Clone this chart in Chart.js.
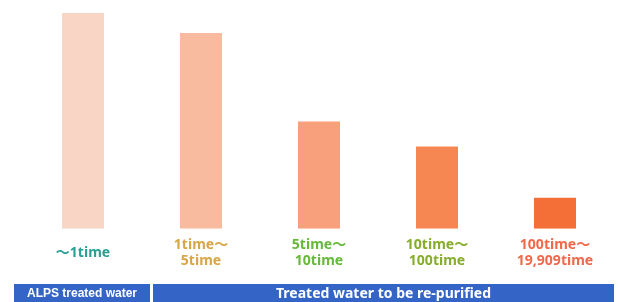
<!DOCTYPE html>
<html>
<head>
<meta charset="utf-8">
<script src="https://cdn.jsdelivr.net/npm/chart.js@4"></script>
<style>
  html, body { margin: 0; padding: 0; background: #fff; }
  #wrap { width: 618px; height: 302px; position: relative; }
</style>
</head>
<body>
<div id="wrap"><canvas id="chart"></canvas></div>
<script>
// datos del gráfico
const categories = [["～1time"], ["1time～", "5time"], ["5time～", "10time"], ["10time～", "100time"], ["100time～", "19,909time"]];
const values = [215, 195, 107, 82, 31];
const barColors = ["#f9d5c6", "#f9bba0", "#f8a07b", "#f78752", "#f46f37"];
const labelColors = ["#2a9f95", "#d8a649", "#66b93a", "#86ad2b", "#ef6a4c"];
const groupNames = ["ALPS treated water", "Treated water to be re-purified"];
const groupRanges = [[0, 0], [1, 4]];

// Plugin para las cajas azules de abajo
const groupBoxes = {
  id: "groupBoxes",
  afterDraw(chart) {
    const ctx = chart.ctx;
    const x = chart.scales.x;
    const w = (x.right - x.left) / categories.length;
    const top = 284, bottom = 302;
    groupRanges.forEach((r, i) => {
      let l = x.getPixelForValue(r[0]) - w / 2;
      let rr = x.getPixelForValue(r[1]) + w / 2;
      if (i === 0) { l -= 10; rr += 8; } else { l += 11; }
      ctx.save();
      ctx.fillStyle = "#3464c6";
      ctx.fillRect(l, top, rr - l, bottom - top);
      ctx.fillStyle = "#ffffff";
      ctx.textAlign = "center";
      ctx.textBaseline = "middle";
      ctx.font = i === 0 ? "bold 12px 'Liberation Sans'" : "bold 14px 'Noto Sans'";
      ctx.fillText(groupNames[i], (l + rr) / 2, (top + bottom) / 2 + 1);
      ctx.restore();
    });
  }
};

new Chart(document.getElementById("chart"), {
  type: "bar",
  data: {
    labels: categories,
    datasets: [{
      data: values,
      backgroundColor: barColors,
      borderWidth: 0,
      categoryPercentage: 1,
      barPercentage: 0.356
    }]
  },
  options: {
    responsive: true,
    maintainAspectRatio: false,
    animation: false,
    layout: { padding: { left: 24, right: 4, top: 13, bottom: 17 } },
    scales: {
      x: {
        grid: { display: false },
        border: { display: false },
        ticks: {
          color: (c) => labelColors[c.index],
          font: { family: "'Noto Sans', 'Noto Sans CJK JP'", size: 14, weight: "bold", lineHeight: 1.15 },
          padding: 8,
          maxRotation: 0,
          autoSkip: false,
          crossAlign: "center"
        }
      },
      y: {
        display: false,
        min: 0,
        max: 215
      }
    },
    plugins: {
      legend: { display: false },
      tooltip: { enabled: false }
    }
  },
  plugins: [groupBoxes]
});
</script>
</body>
</html>
